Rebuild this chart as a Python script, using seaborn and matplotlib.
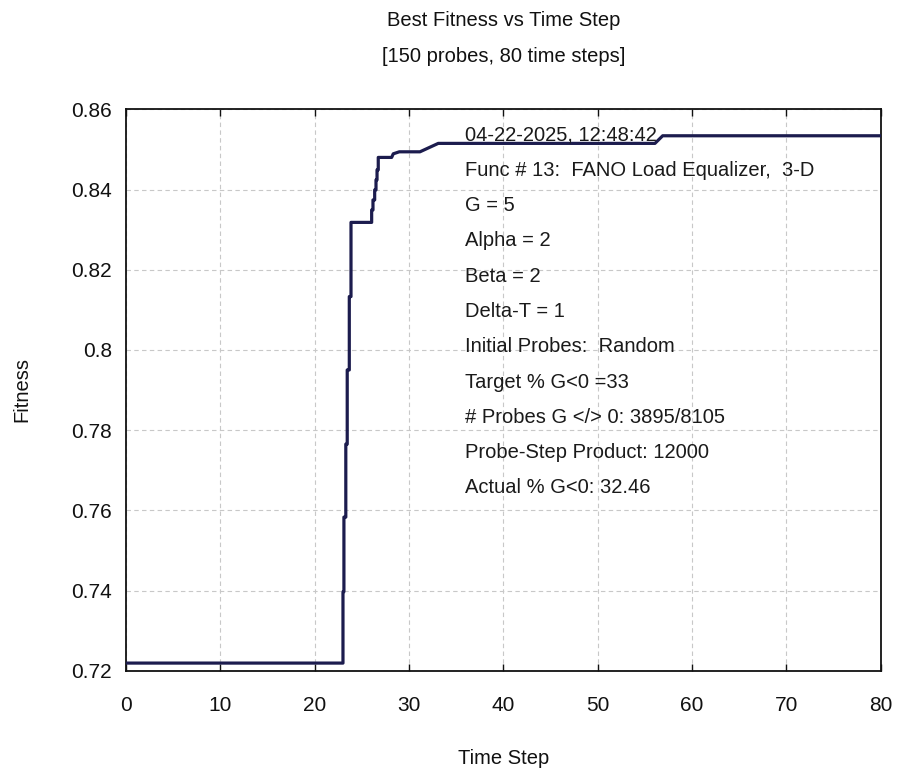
import matplotlib
matplotlib.use("Agg")
import matplotlib.pyplot as plt
import matplotlib.ticker as mticker
import seaborn as sns
import pandas as pd

# ---- data ----
time_step = [0, 23.0, 23.0, 23.1, 23.1, 23.3, 23.3, 23.45, 23.45, 23.67, 23.67,
             23.85, 23.85, 26.04, 26.04, 26.18, 26.18, 26.36, 26.36, 26.5, 26.5,
             26.61, 26.61, 26.74, 26.74, 28.16, 28.33, 28.97, 31.16, 33.1,
             56.07, 56.89, 80]
fitness = [0.7219, 0.7219, 0.7397, 0.7397, 0.7583, 0.7583, 0.7765, 0.7765, 0.7950,
           0.7950, 0.8133, 0.8133, 0.8318, 0.8318, 0.8349, 0.8349, 0.8374, 0.8374,
           0.8399, 0.8399, 0.8424, 0.8424, 0.8449, 0.8449, 0.8480, 0.8480, 0.8489,
           0.8494, 0.8494, 0.8515, 0.8515, 0.8534, 0.8534]

x_ticks = [0, 10, 20, 30, 40, 50, 60, 70, 80]
y_ticks = [0.72, 0.74, 0.76, 0.78, 0.80, 0.82, 0.84, 0.86]

title_lines = ["Best Fitness vs Time Step", "[150 probes, 80 time steps]"]
x_label = "Time Step"
y_label = "Fitness"
info_lines = [
    "04-22-2025, 12:48:42",
    "Func # 13:  FANO Load Equalizer,  3-D",
    "G = 5",
    "Alpha = 2",
    "Beta = 2",
    "Delta-T = 1",
    "Initial Probes:  Random",
    "Target % G<0 =33",
    "# Probes G </> 0: 3895/8105",
    "Probe-Step Product: 12000",
    "Actual % G<0: 32.46",
]

# ---- style ----
sns.set_style("white")
plt.rcParams["font.family"] = ["Liberation Sans", "DejaVu Sans"]

fig = plt.figure(figsize=(9.04, 7.71), dpi=100)
ax = fig.add_axes([126 / 904, 1 - 670.7 / 771, (880.7 - 126) / 904, (670.7 - 109.3) / 771])

df = pd.DataFrame({"Time Step": time_step, "Fitness": fitness})
sns.lineplot(data=df, x="Time Step", y="Fitness", sort=False, estimator=None,
             color="#1c1c4e", linewidth=2.3, ax=ax, zorder=3)

ax.set_xlim(0, 80)
ax.set_ylim(0.72, 0.86)
ax.set_xticks(x_ticks)
ax.set_yticks(y_ticks)
ax.yaxis.set_major_formatter(mticker.FuncFormatter(lambda v, p: f"{v:g}"))

ax.grid(True, which="major", linestyle=(0, (4, 3)), color="#c8c8c8", linewidth=0.8)
for s in ax.spines.values():
    s.set_color("#111111")
    s.set_linewidth(1.3)

ax.tick_params(axis="x", direction="in", length=5, width=1.0, top=True, bottom=True,
               labelsize=15, pad=18, colors="#111111")
ax.tick_params(axis="y", length=0, labelsize=15, pad=10, colors="#111111")

ax.set_xlabel(x_label, fontsize=14.5, va="center", color="#111111")
ax.xaxis.set_label_coords(0.5, (670.7 - 758) / 561.4)
ax.set_ylabel(y_label, fontsize=14.5, va="center", ha="center", color="#111111")
ax.yaxis.set_label_coords((22 - 126) / 754.7, 0.5)

cx = 503.4 / 904
fig.text(cx, 1 - 20 / 771, title_lines[0], ha="center", va="center", fontsize=14.5, color="#111111")
fig.text(cx, 1 - 57 / 771, title_lines[1], ha="center", va="center", fontsize=14.5, color="#111111")

x0 = (465 - 126) / 754.7
y0 = (670.7 - 135) / 561.4
dy = 35.3 / 561.4
for i, line in enumerate(info_lines):
    ax.text(x0, y0 - i * dy, line, transform=ax.transAxes, ha="left", va="center",
            fontsize=14.5, color="#1a1a1a", zorder=4)

fig.savefig("out.png", dpi=100)
